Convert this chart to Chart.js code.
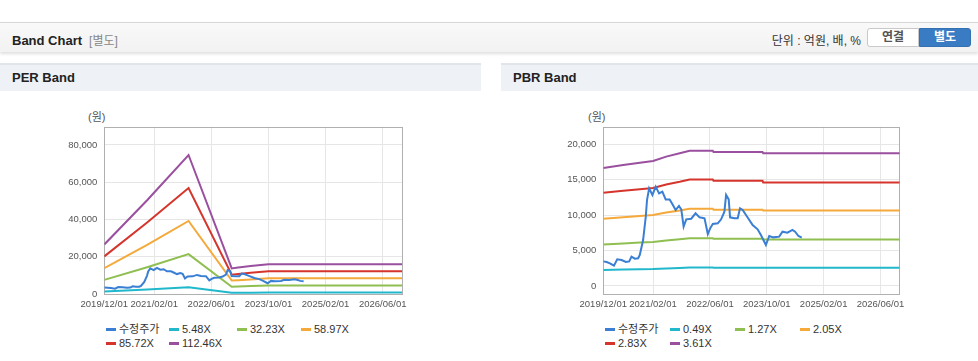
<!DOCTYPE html>
<html lang="ko">
<head>
<meta charset="utf-8">
<script src="https://cdn.jsdelivr.net/npm/chart.js@4.4.1/dist/chart.umd.min.js"></script>
<style>
  body { margin:0; width:978px; height:361px; background:#fff; position:relative; overflow:hidden;
         font-family:"Liberation Sans", Arial, "Noto Sans CJK KR", sans-serif; }
  .top { position:absolute; left:0; top:22px; width:978px; height:29px; border-top:1px solid #d6d6d6;
         background:linear-gradient(#f9f9f9,#f2f2f2); box-shadow:0 2px 3px rgba(0,0,0,0.13); }
  .top .title { position:absolute; left:12px; top:8px; font-size:13px; font-weight:bold; color:#222; }
  .top .title span { color:#888; font-weight:normal; font-size:12px; margin-left:7px; }
  .unit { position:absolute; right:117px; top:8px; font-size:12px; color:#333; }
  .btns { position:absolute; left:867px; top:5px; display:flex; }
  .btn { width:50px; height:17px; line-height:17px; text-align:center; font-size:12px; font-weight:bold; }
  .btn.off { background:#fff; border:1px solid #c9c9c9; color:#555; border-radius:3px 0 0 3px; }
  .btn.on { background:#3a7cc3; border:1px solid #3471b1; color:#fff; border-radius:0 3px 3px 0; }
  .phead { position:absolute; top:63px; height:26px; line-height:26px; background:#eef1f6;
           border-top:2px solid #e1e4e9; font-size:13px; font-weight:bold; color:#222; padding-left:12px; box-sizing:content-box; }
  .unitlbl { position:absolute; top:108px; font-size:11px; color:#555; }
  canvas { position:absolute; }
  .legend { position:absolute; top:322px; display:grid; grid-auto-rows:14px; font-size:11px; color:#333; }
  .legend div { white-space:nowrap; line-height:14px; }
  .legend i { display:inline-block; width:10px; height:3px; vertical-align:middle; margin-right:3px; position:relative; top:-1px; }
</style>
</head>
<body>
<div class="top">
  <div class="title">Band Chart<span>[별도]</span></div>
  <div class="unit">단위 : 억원, 배, %</div>
  <div class="btns"><div class="btn off">연결</div><div class="btn on">별도</div></div>
</div>
<div class="phead" style="left:0;width:469px">PER Band</div>
<div class="phead" style="left:501px;width:465px">PBR Band</div>
<div class="unitlbl" style="left:88px">(원)</div>
<div class="unitlbl" style="left:588px">(원)</div>
<canvas id="perChart" width="481" height="225" style="left:0;top:95px"></canvas>
<canvas id="pbrChart" width="477" height="225" style="left:501px;top:95px"></canvas>
<div class="legend" id="perLegend" style="left:106px;grid-template-columns:63px 68px 64px auto"></div>
<div class="legend" id="pbrLegend" style="left:605px;grid-template-columns:65px 65px 65px auto"></div>
<script>
// x axis: months since 2019/12/01
const tickMonths = [0, 14, 30, 46, 62, 78];
const tickLabels = ['2019/12/01', '2021/02/01', '2022/06/01', '2023/10/01', '2025/02/01', '2026/06/01'];
const axisEnd = 83.4;

// 수정주가
const priceMonths = [0, 0.93, 1.87, 3.0, 3.92, 5.14, 6.35, 7.28, 7.94, 8.87, 9.8, 10.27, 11.2, 11.95, 12.3, 12.89,
  13.82, 14.75, 15.69, 16.62, 17.55, 18.67, 19.42, 20.35, 21.29, 21.94, 22.6, 23.34, 24.74, 25.96, 27.08, 28.48,
  29.41, 30.07, 30.81, 32.21, 33.15, 34.08, 34.55, 35.29, 35.67, 36.88, 37.82, 38.47, 39.22, 40.15, 42.02, 43.42,
  44.35, 45.75, 46.69, 47.81, 49.49, 50.42, 51.82, 53.22, 53.97, 54.9, 55.84];
const priceValues = [3470, 3380, 3190, 2860, 3760, 3660, 3380, 3470, 4130, 3850, 3900, 4370, 6480, 9770, 12110, 13760,
  12820, 13990, 13050, 13290, 12200, 12200, 11550, 10700, 11270, 10800, 8360, 9390, 9480, 10240, 9670, 9530,
  7320, 8120, 8730, 8830, 9390, 10470, 12820, 12200, 9670, 9530, 9530, 10940, 10700, 10000, 8590, 7980,
  7180, 5770, 7040, 6850, 6950, 7650, 7510, 7890, 7650, 7040, 6810];

// PER band
const perYTicks = [0, 20000, 40000, 60000, 80000];
const perMonths = [0, 12, 23.6, 35.7, 37.5, 41, 46, 83.4];
const perNames = ['5.48X', '32.23X', '58.97X', '85.72X', '112.46X'];
const per548 = [1300, 2450, 3640, 670, 690, 730, 780, 780];
const per3223 = [7600, 14400, 21400, 3900, 4050, 4300, 4600, 4600];
const per5897 = [13900, 26400, 39200, 7200, 7400, 7800, 8400, 8400];
const per8572 = [20200, 38400, 56900, 10400, 10800, 11400, 12200, 12200];
const per11246 = [26600, 50300, 74600, 13700, 14200, 15000, 16000, 16000];

// PBR band
const pbrYTicks = [0, 5000, 10000, 15000, 20000];
const pbrMonths = [0, 5.6, 10.3, 14, 17.7, 21.5, 24.3, 30.8, 31, 44.8, 45, 83.4];
const pbrNames = ['0.49X', '1.27X', '2.05X', '2.83X', '3.61X'];
const pbr049 = [2260, 2310, 2360, 2390, 2470, 2540, 2600, 2600, 2570, 2570, 2560, 2560];
const pbr127 = [5850, 5990, 6110, 6190, 6410, 6570, 6710, 6710, 6640, 6640, 6560, 6560];
const pbr205 = [9460, 9690, 9870, 10000, 10360, 10620, 10880, 10880, 10740, 10740, 10640, 10640];
const pbr283 = [13120, 13400, 13640, 13800, 14300, 14680, 15000, 15000, 14820, 14820, 14580, 14580];
const pbr361 = [16620, 17040, 17370, 17600, 18220, 18690, 19050, 19050, 18880, 18880, 18690, 18690];

const priceName = '수정주가';
const colors = ['#3a7fd4', '#22b8cc', '#8fbf50', '#f5a93a', '#d5352c', '#9a509f'];
const tickFont = { family: '"Liberation Sans", Arial, sans-serif', size: 9.5 };

const pts = (xs, ys) => xs.map((x, i) => ({ x: x, y: ys[i] }));

const framePlugin = {
  id: 'frame',
  beforeDatasetsDraw(chart) {
    const a = chart.chartArea, ctx = chart.ctx;
    ctx.save();
    ctx.strokeStyle = '#b0b0b0';
    ctx.lineWidth = 1;
    ctx.strokeRect(Math.round(a.left) + 0.5, Math.round(a.top) + 0.5, Math.round(a.right - a.left), Math.round(a.bottom - a.top));
    ctx.restore();
  }
};

function makeChart(id, bandMonths, bands, names, yTicks, yMin, yMax, padding) {
  const datasets = [{ label: priceName, data: pts(priceMonths, priceValues), borderColor: colors[0] }];
  bands.forEach((b, i) => datasets.push({ label: names[i], data: pts(bandMonths, b), borderColor: colors[i + 1] }));
  datasets.forEach(d => { d.borderWidth = 2; d.pointRadius = 0; d.tension = 0; d.fill = false; });

  new Chart(document.getElementById(id), {
    type: 'line',
    data: { datasets },
    options: {
      responsive: false,
      animation: false,
      layout: { padding },
      plugins: { legend: { display: false }, tooltip: { enabled: false } },
      scales: {
        x: {
          type: 'linear', min: 0, max: axisEnd,
          afterBuildTicks: s => { s.ticks = tickMonths.map(v => ({ value: v })); },
          afterFit: s => { s.height = 20; },
          grid: { color: '#e6e6e6', drawTicks: false },
          border: { display: false },
          ticks: { autoSkip: false, maxRotation: 0, padding: 5, color: '#555', font: tickFont,
                   callback: (v, i) => tickLabels[i] }
        },
        y: {
          min: yMin, max: yMax,
          afterBuildTicks: s => { s.ticks = yTicks.map(v => ({ value: v })); },
          afterFit: s => { s.width = 50; },
          grid: { color: '#e6e6e6', drawTicks: false },
          border: { display: false },
          ticks: { padding: 7, color: '#555', font: tickFont,
                   callback: v => v.toLocaleString('en-US') }
        }
      }
    },
    plugins: [framePlugin]
  });
}

function makeLegend(id, names) {
  const el = document.getElementById(id);
  [priceName].concat(names).forEach((n, i) => {
    const d = document.createElement('div');
    d.innerHTML = '<i style="background:' + colors[i] + '"></i>' + n;
    el.appendChild(d);
  });
}

makeChart('perChart', perMonths, [per548, per3223, per5897, per8572, per11246], perNames,
  perYTicks, 0, 89800, { left: 54.3, right: 79, top: 31.7, bottom: 6 });
makeChart('pbrChart', pbrMonths, [pbr049, pbr127, pbr205, pbr283, pbr361], pbrNames,
  pbrYTicks, -1127, 22437, { left: 52.3, right: 78.3, top: 31.7, bottom: 6 });
makeLegend('perLegend', perNames);
makeLegend('pbrLegend', pbrNames);
</script>
</body>
</html>
